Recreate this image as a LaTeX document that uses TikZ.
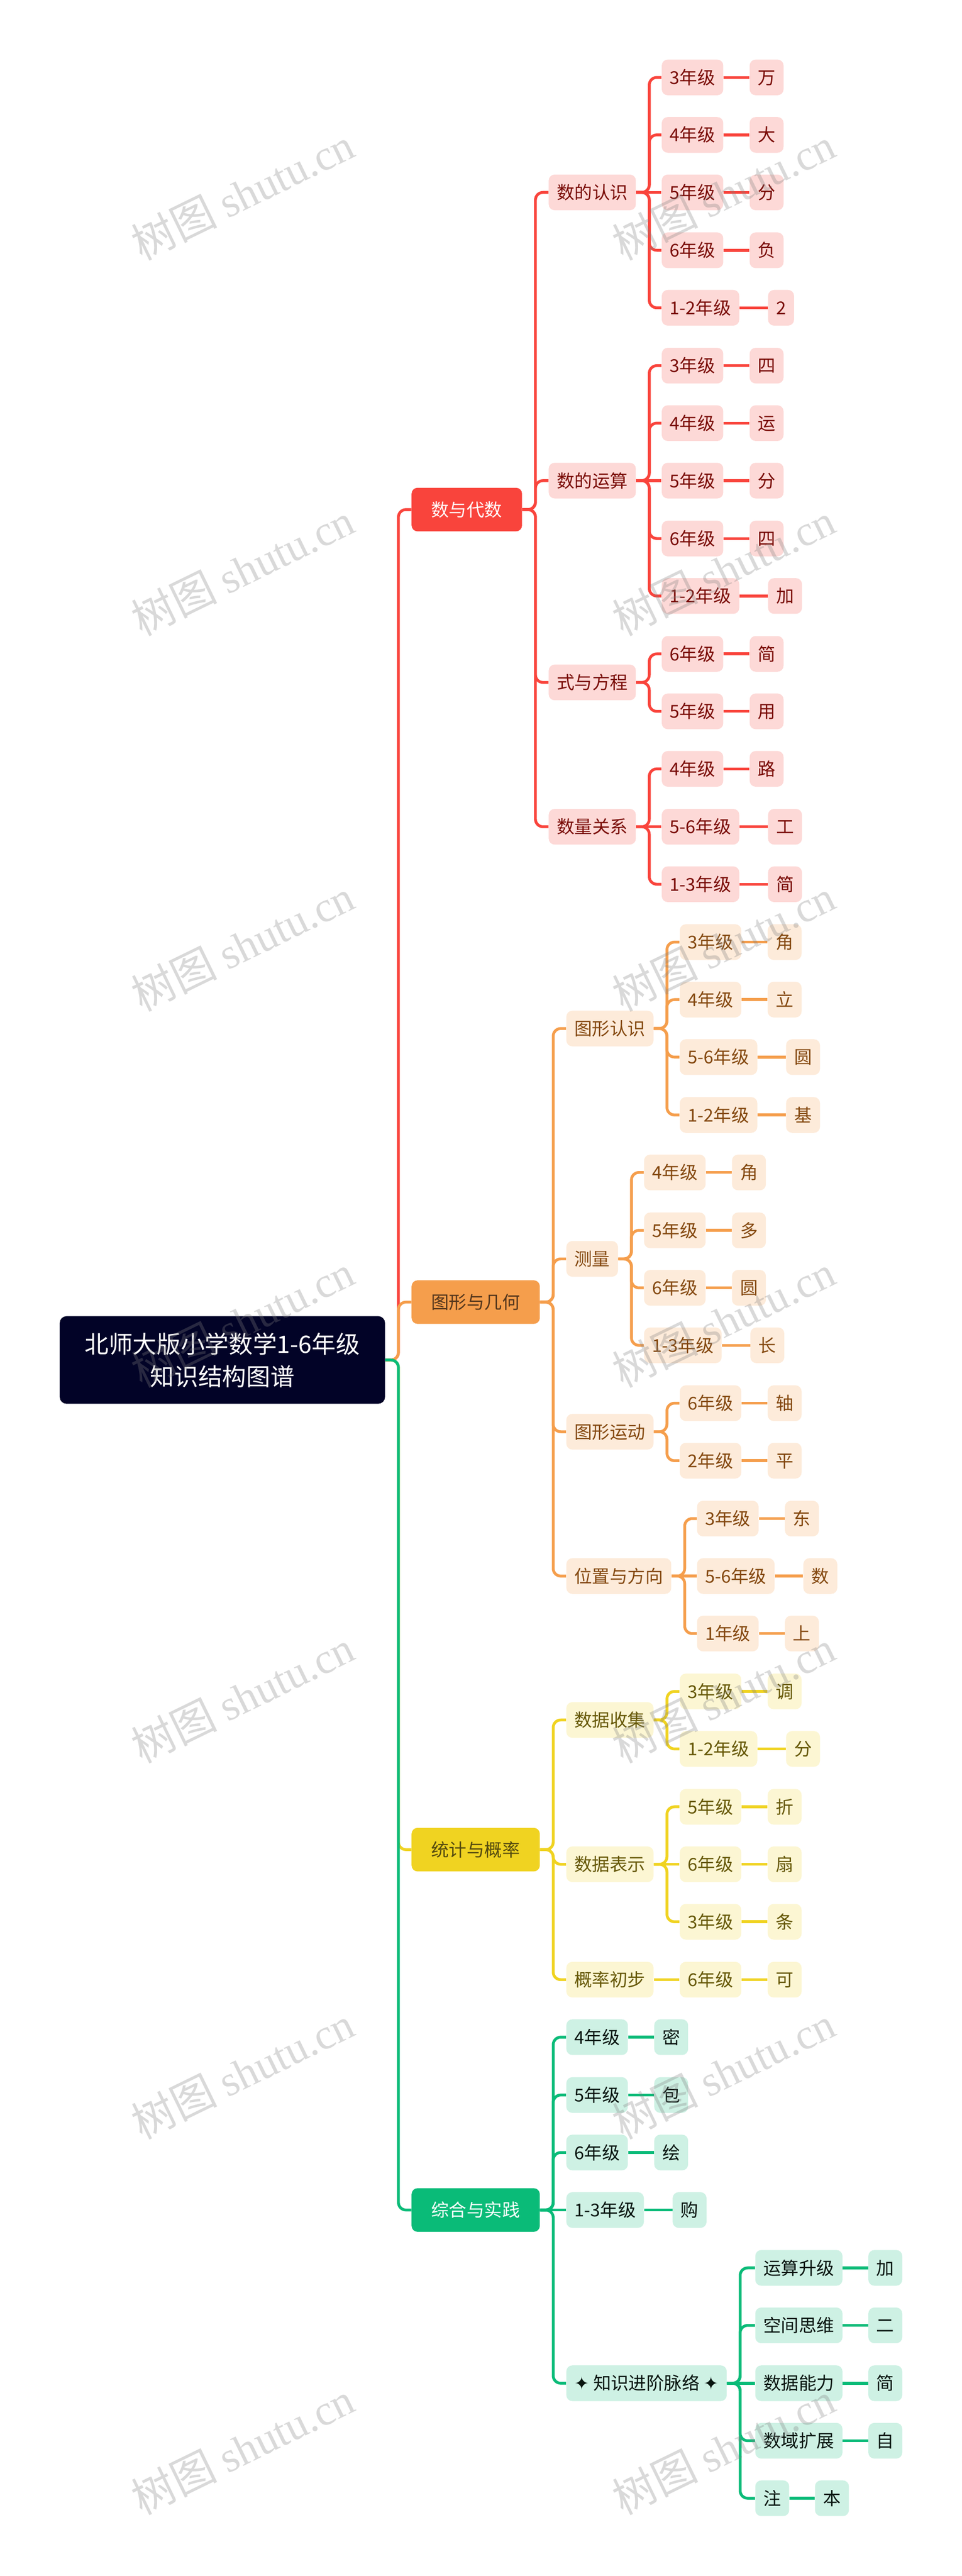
\documentclass[tikz,border=0pt]{standalone}
\usepackage{fontspec}
\setmainfont{Noto Sans CJK SC}
\newfontfamily\starfont{DejaVu Sans}
\newfontfamily\markfont{Liberation Serif}
\definecolor{rootfill}{HTML}{020327}
\definecolor{redmain}{HTML}{F9443C}
\definecolor{redsoft}{HTML}{FDD9D7}
\definecolor{redtext}{HTML}{7A0C07}
\definecolor{orangemain}{HTML}{F59E4C}
\definecolor{orangesoft}{HTML}{FDEBDA}
\definecolor{orangetext}{HTML}{84480F}
\definecolor{orangehead}{HTML}{54361C}
\definecolor{yellowmain}{HTML}{F0D321}
\definecolor{yellowsoft}{HTML}{FCF6D3}
\definecolor{yellowtext}{HTML}{665807}
\definecolor{yellowhead}{HTML}{544A0F}
\definecolor{greenmain}{HTML}{0ABB78}
\definecolor{greensoft}{HTML}{CEF1E4}
\definecolor{greentext}{HTML}{08140F}
\tikzset{
    mapbox/.style={anchor=west, rounded corners=0.16cm, inner ysep=0pt, inner xsep=0.215cm, minimum height=0.95cm, text height=0.416cm, text depth=0.057cm, font=\fontsize{13.45pt}{16pt}\selectfont},
    headbox/.style={mapbox, inner xsep=0.525cm, minimum height=1.16cm},
    redbox/.style={mapbox, fill=redsoft, text=redtext},
    orangebox/.style={mapbox, fill=orangesoft, text=orangetext},
    yellowbox/.style={mapbox, fill=yellowsoft, text=yellowtext},
    greenbox/.style={mapbox, fill=greensoft, text=greentext},
    redline/.style={draw=redmain, line width=0.075cm, rounded corners=0.2cm},
    orangeline/.style={draw=orangemain, line width=0.075cm, rounded corners=0.2cm},
    yellowline/.style={draw=yellowmain, line width=0.075cm, rounded corners=0.2cm},
    greenline/.style={draw=greenmain, line width=0.075cm, rounded corners=0.2cm},
    watermark/.style={rotate=26, text=gray, text opacity=0.3, font=\fontsize{32.5pt}{40pt}\selectfont}
}
\begin{document}
\begin{tikzpicture}
        \useasboundingbox (00.00,-68.55) rectangle (25.60,00.00);

        % Root
        \node [anchor=center, align=center, fill=rootfill, text=white, rounded corners=0.18cm, minimum width=8.66cm, minimum height=2.33cm, inner sep=0pt, font=\fontsize{18.2pt}{24.5pt}\selectfont] (root) at (05.92,-36.19) {北师大版小学数学1-6年级\\知识结构图谱};

        % Heads
        \node [headbox, fill=redmain, text=white] (algebra) at (10.95,-13.56) {数与代数};
        \node [headbox, fill=orangemain, text=orangehead] (geometry) at (10.95,-34.65) {图形与几何};
        \node [headbox, fill=yellowmain, text=yellowhead] (stats) at (10.95,-49.22) {统计与概率};
        \node [headbox, fill=greenmain, text=white] (practice) at (10.95,-58.81) {综合与实践};

        % Number knowledge
        \node [redbox] (know) at (14.60,-05.12) {数的认识};
        \node [redbox] (knowa) at (17.61,-02.06) {3年级};
        \node [redbox] (knowax) at (19.95,-02.06) {万};
        \node [redbox] (knowb) at (17.61,-03.59) {4年级};
        \node [redbox] (knowbx) at (19.95,-03.59) {大};
        \node [redbox] (knowc) at (17.61,-05.12) {5年级};
        \node [redbox] (knowcx) at (19.95,-05.12) {分};
        \node [redbox] (knowd) at (17.61,-06.66) {6年级};
        \node [redbox] (knowdx) at (19.95,-06.66) {负};
        \node [redbox] (knowe) at (17.61,-08.19) {1-2年级};
        \node [redbox] (knowex) at (20.44,-08.19) {2};

        % Number operations
        \node [redbox] (oper) at (14.60,-12.79) {数的运算};
        \node [redbox] (opera) at (17.61,-09.73) {3年级};
        \node [redbox] (operax) at (19.95,-09.73) {四};
        \node [redbox] (operb) at (17.61,-11.26) {4年级};
        \node [redbox] (operbx) at (19.95,-11.26) {运};
        \node [redbox] (operc) at (17.61,-12.79) {5年级};
        \node [redbox] (opercx) at (19.95,-12.79) {分};
        \node [redbox] (operd) at (17.61,-14.33) {6年级};
        \node [redbox] (operdx) at (19.95,-14.33) {四};
        \node [redbox] (opere) at (17.61,-15.86) {1-2年级};
        \node [redbox] (operex) at (20.44,-15.86) {加};

        % Equations
        \node [redbox] (equa) at (14.60,-18.16) {式与方程};
        \node [redbox] (equaa) at (17.61,-17.40) {6年级};
        \node [redbox] (equaax) at (19.95,-17.40) {简};
        \node [redbox] (equab) at (17.61,-18.93) {5年级};
        \node [redbox] (equabx) at (19.95,-18.93) {用};

        % Quantities
        \node [redbox] (quant) at (14.60,-22.00) {数量关系};
        \node [redbox] (quanta) at (17.61,-20.46) {4年级};
        \node [redbox] (quantax) at (19.95,-20.46) {路};
        \node [redbox] (quantb) at (17.61,-22.00) {5-6年级};
        \node [redbox] (quantbx) at (20.44,-22.00) {工};
        \node [redbox] (quantc) at (17.61,-23.53) {1-3年级};
        \node [redbox] (quantcx) at (20.44,-23.53) {简};

        % Shapes
        \node [orangebox] (shape) at (15.07,-27.37) {图形认识};
        \node [orangebox] (shapea) at (18.09,-25.07) {3年级};
        \node [orangebox] (shapeax) at (20.43,-25.07) {角};
        \node [orangebox] (shapeb) at (18.09,-26.60) {4年级};
        \node [orangebox] (shapebx) at (20.43,-26.60) {立};
        \node [orangebox] (shapec) at (18.09,-28.13) {5-6年级};
        \node [orangebox] (shapecx) at (20.92,-28.13) {圆};
        \node [orangebox] (shaped) at (18.09,-29.67) {1-2年级};
        \node [orangebox] (shapedx) at (20.92,-29.67) {基};

        % Measuring
        \node [orangebox] (measure) at (15.07,-33.50) {测量};
        \node [orangebox] (measurea) at (17.14,-31.20) {4年级};
        \node [orangebox] (measureax) at (19.48,-31.20) {角};
        \node [orangebox] (measureb) at (17.14,-32.74) {5年级};
        \node [orangebox] (measurebx) at (19.48,-32.74) {多};
        \node [orangebox] (measurec) at (17.14,-34.27) {6年级};
        \node [orangebox] (measurecx) at (19.48,-34.27) {圆};
        \node [orangebox] (measured) at (17.14,-35.80) {1-3年级};
        \node [orangebox] (measuredx) at (19.97,-35.80) {长};

        % Motion
        \node [orangebox] (motion) at (15.07,-38.10) {图形运动};
        \node [orangebox] (motiona) at (18.09,-37.34) {6年级};
        \node [orangebox] (motionax) at (20.43,-37.34) {轴};
        \node [orangebox] (motionb) at (18.09,-38.87) {2年级};
        \node [orangebox] (motionbx) at (20.43,-38.87) {平};

        % Position
        \node [orangebox] (place) at (15.07,-41.94) {位置与方向};
        \node [orangebox] (placea) at (18.55,-40.41) {3年级};
        \node [orangebox] (placeax) at (20.89,-40.41) {东};
        \node [orangebox] (placeb) at (18.55,-41.94) {5-6年级};
        \node [orangebox] (placebx) at (21.38,-41.94) {数};
        \node [orangebox] (placec) at (18.55,-43.47) {1年级};
        \node [orangebox] (placecx) at (20.89,-43.47) {上};

        % Data collection
        \node [yellowbox] (collect) at (15.07,-45.77) {数据收集};
        \node [yellowbox] (collecta) at (18.09,-45.01) {3年级};
        \node [yellowbox] (collectax) at (20.43,-45.01) {调};
        \node [yellowbox] (collectb) at (18.09,-46.54) {1-2年级};
        \node [yellowbox] (collectbx) at (20.92,-46.54) {分};

        % Data display
        \node [yellowbox] (display) at (15.07,-49.61) {数据表示};
        \node [yellowbox] (displaya) at (18.09,-48.08) {5年级};
        \node [yellowbox] (displayax) at (20.43,-48.08) {折};
        \node [yellowbox] (displayb) at (18.09,-49.61) {6年级};
        \node [yellowbox] (displaybx) at (20.43,-49.61) {扇};
        \node [yellowbox] (displayc) at (18.09,-51.14) {3年级};
        \node [yellowbox] (displaycx) at (20.43,-51.14) {条};

        % Probability
        \node [yellowbox] (chance) at (15.07,-52.68) {概率初步};
        \node [yellowbox] (chancea) at (18.09,-52.68) {6年级};
        \node [yellowbox] (chanceax) at (20.43,-52.68) {可};

        % Practice grades
        \node [greenbox] (grada) at (15.07,-54.21) {4年级};
        \node [greenbox] (gradax) at (17.41,-54.21) {密};
        \node [greenbox] (gradb) at (15.07,-55.75) {5年级};
        \node [greenbox] (gradbx) at (17.41,-55.75) {包};
        \node [greenbox] (gradc) at (15.07,-57.28) {6年级};
        \node [greenbox] (gradcx) at (17.41,-57.28) {绘};
        \node [greenbox] (gradd) at (15.07,-58.81) {1-3年级};
        \node [greenbox] (graddx) at (17.90,-58.81) {购};

        % Progress
        \node [greenbox] (path) at (15.07,-63.42) {{\starfont ✦} 知识进阶脉络 {\starfont ✦}};
        \node [greenbox] (patha) at (20.10,-60.35) {运算升级};
        \node [greenbox] (pathax) at (23.11,-60.35) {加};
        \node [greenbox] (pathb) at (20.10,-61.88) {空间思维};
        \node [greenbox] (pathbx) at (23.11,-61.88) {二};
        \node [greenbox] (pathc) at (20.10,-63.42) {数据能力};
        \node [greenbox] (pathcx) at (23.11,-63.42) {简};
        \node [greenbox] (pathd) at (20.10,-64.95) {数域扩展};
        \node [greenbox] (pathdx) at (23.11,-64.95) {自};
        \node [greenbox] (pathe) at (20.10,-66.48) {注};
        \node [greenbox] (pathex) at (21.69,-66.48) {本};

        % Red links
        \draw [redline] (root.east) -- ++(0.35,0) |- (algebra.west);
        \draw [redline] (algebra.east) -- ++(0.35,0) |- (know.west);
        \draw [redline] (algebra.east) -- ++(0.35,0) |- (oper.west);
        \draw [redline] (algebra.east) -- ++(0.35,0) |- (equa.west);
        \draw [redline] (algebra.east) -- ++(0.35,0) |- (quant.west);
        \draw [redline] (know.east) -- ++(0.35,0) |- (knowa.west);
        \draw [redline] (know.east) -- ++(0.35,0) |- (knowb.west);
        \draw [redline] (know.east) -- (knowc.west);
        \draw [redline] (know.east) -- ++(0.35,0) |- (knowd.west);
        \draw [redline] (know.east) -- ++(0.35,0) |- (knowe.west);
        \draw [redline] (knowa.east) -- (knowax.west);
        \draw [redline] (knowb.east) -- (knowbx.west);
        \draw [redline] (knowc.east) -- (knowcx.west);
        \draw [redline] (knowd.east) -- (knowdx.west);
        \draw [redline] (knowe.east) -- (knowex.west);
        \draw [redline] (oper.east) -- ++(0.35,0) |- (opera.west);
        \draw [redline] (oper.east) -- ++(0.35,0) |- (operb.west);
        \draw [redline] (oper.east) -- (operc.west);
        \draw [redline] (oper.east) -- ++(0.35,0) |- (operd.west);
        \draw [redline] (oper.east) -- ++(0.35,0) |- (opere.west);
        \draw [redline] (opera.east) -- (operax.west);
        \draw [redline] (operb.east) -- (operbx.west);
        \draw [redline] (operc.east) -- (opercx.west);
        \draw [redline] (operd.east) -- (operdx.west);
        \draw [redline] (opere.east) -- (operex.west);
        \draw [redline] (equa.east) -- ++(0.35,0) |- (equaa.west);
        \draw [redline] (equa.east) -- ++(0.35,0) |- (equab.west);
        \draw [redline] (equaa.east) -- (equaax.west);
        \draw [redline] (equab.east) -- (equabx.west);
        \draw [redline] (quant.east) -- ++(0.35,0) |- (quanta.west);
        \draw [redline] (quant.east) -- (quantb.west);
        \draw [redline] (quant.east) -- ++(0.35,0) |- (quantc.west);
        \draw [redline] (quanta.east) -- (quantax.west);
        \draw [redline] (quantb.east) -- (quantbx.west);
        \draw [redline] (quantc.east) -- (quantcx.west);

        % Orange links
        \draw [orangeline] (root.east) -- ++(0.35,0) |- (geometry.west);
        \draw [orangeline] (geometry.east) -- ++(0.35,0) |- (shape.west);
        \draw [orangeline] (geometry.east) -- ++(0.35,0) |- (measure.west);
        \draw [orangeline] (geometry.east) -- ++(0.35,0) |- (motion.west);
        \draw [orangeline] (geometry.east) -- ++(0.35,0) |- (place.west);
        \draw [orangeline] (shape.east) -- ++(0.35,0) |- (shapea.west);
        \draw [orangeline] (shape.east) -- ++(0.35,0) |- (shapeb.west);
        \draw [orangeline] (shape.east) -- ++(0.35,0) |- (shapec.west);
        \draw [orangeline] (shape.east) -- ++(0.35,0) |- (shaped.west);
        \draw [orangeline] (shapea.east) -- (shapeax.west);
        \draw [orangeline] (shapeb.east) -- (shapebx.west);
        \draw [orangeline] (shapec.east) -- (shapecx.west);
        \draw [orangeline] (shaped.east) -- (shapedx.west);
        \draw [orangeline] (measure.east) -- ++(0.35,0) |- (measurea.west);
        \draw [orangeline] (measure.east) -- ++(0.35,0) |- (measureb.west);
        \draw [orangeline] (measure.east) -- ++(0.35,0) |- (measurec.west);
        \draw [orangeline] (measure.east) -- ++(0.35,0) |- (measured.west);
        \draw [orangeline] (measurea.east) -- (measureax.west);
        \draw [orangeline] (measureb.east) -- (measurebx.west);
        \draw [orangeline] (measurec.east) -- (measurecx.west);
        \draw [orangeline] (measured.east) -- (measuredx.west);
        \draw [orangeline] (motion.east) -- ++(0.35,0) |- (motiona.west);
        \draw [orangeline] (motion.east) -- ++(0.35,0) |- (motionb.west);
        \draw [orangeline] (motiona.east) -- (motionax.west);
        \draw [orangeline] (motionb.east) -- (motionbx.west);
        \draw [orangeline] (place.east) -- ++(0.35,0) |- (placea.west);
        \draw [orangeline] (place.east) -- (placeb.west);
        \draw [orangeline] (place.east) -- ++(0.35,0) |- (placec.west);
        \draw [orangeline] (placea.east) -- (placeax.west);
        \draw [orangeline] (placeb.east) -- (placebx.west);
        \draw [orangeline] (placec.east) -- (placecx.west);

        % Yellow links
        \draw [yellowline] (root.east) -- ++(0.35,0) |- (stats.west);
        \draw [yellowline] (stats.east) -- ++(0.35,0) |- (collect.west);
        \draw [yellowline] (stats.east) -- ++(0.35,0) |- (display.west);
        \draw [yellowline] (stats.east) -- ++(0.35,0) |- (chance.west);
        \draw [yellowline] (collect.east) -- ++(0.35,0) |- (collecta.west);
        \draw [yellowline] (collect.east) -- ++(0.35,0) |- (collectb.west);
        \draw [yellowline] (collecta.east) -- (collectax.west);
        \draw [yellowline] (collectb.east) -- (collectbx.west);
        \draw [yellowline] (display.east) -- ++(0.35,0) |- (displaya.west);
        \draw [yellowline] (display.east) -- (displayb.west);
        \draw [yellowline] (display.east) -- ++(0.35,0) |- (displayc.west);
        \draw [yellowline] (displaya.east) -- (displayax.west);
        \draw [yellowline] (displayb.east) -- (displaybx.west);
        \draw [yellowline] (displayc.east) -- (displaycx.west);
        \draw [yellowline] (chance.east) -- (chancea.west);
        \draw [yellowline] (chancea.east) -- (chanceax.west);

        % Green links
        \draw [greenline] (root.east) -- ++(0.35,0) |- (practice.west);
        \draw [greenline] (practice.east) -- ++(0.35,0) |- (grada.west);
        \draw [greenline] (practice.east) -- ++(0.35,0) |- (gradb.west);
        \draw [greenline] (practice.east) -- ++(0.35,0) |- (gradc.west);
        \draw [greenline] (practice.east) -- (gradd.west);
        \draw [greenline] (practice.east) -- ++(0.35,0) |- (path.west);
        \draw [greenline] (grada.east) -- (gradax.west);
        \draw [greenline] (gradb.east) -- (gradbx.west);
        \draw [greenline] (gradc.east) -- (gradcx.west);
        \draw [greenline] (gradd.east) -- (graddx.west);
        \draw [greenline] (path.east) -- ++(0.35,0) |- (patha.west);
        \draw [greenline] (path.east) -- ++(0.35,0) |- (pathb.west);
        \draw [greenline] (path.east) -- (pathc.west);
        \draw [greenline] (path.east) -- ++(0.35,0) |- (pathd.west);
        \draw [greenline] (path.east) -- ++(0.35,0) |- (pathe.west);
        \draw [greenline] (patha.east) -- (pathax.west);
        \draw [greenline] (pathb.east) -- (pathbx.west);
        \draw [greenline] (pathc.east) -- (pathcx.west);
        \draw [greenline] (pathd.east) -- (pathdx.west);
        \draw [greenline] (pathe.east) -- (pathex.west);

        % Watermarks
        \node [watermark] (marka) at (06.46,-05.15) {树图 {\markfont shutu.cn}};
        \node [watermark] (markb) at (19.26,-05.15) {树图 {\markfont shutu.cn}};
        \node [watermark] (markc) at (06.46,-15.15) {树图 {\markfont shutu.cn}};
        \node [watermark] (markd) at (19.26,-15.15) {树图 {\markfont shutu.cn}};
        \node [watermark] (marke) at (06.46,-25.15) {树图 {\markfont shutu.cn}};
        \node [watermark] (markf) at (19.26,-25.15) {树图 {\markfont shutu.cn}};
        \node [watermark] (markg) at (06.46,-35.15) {树图 {\markfont shutu.cn}};
        \node [watermark] (markh) at (19.26,-35.15) {树图 {\markfont shutu.cn}};
        \node [watermark] (marki) at (06.46,-45.15) {树图 {\markfont shutu.cn}};
        \node [watermark] (markj) at (19.26,-45.15) {树图 {\markfont shutu.cn}};
        \node [watermark] (markk) at (06.46,-55.15) {树图 {\markfont shutu.cn}};
        \node [watermark] (markl) at (19.26,-55.15) {树图 {\markfont shutu.cn}};
        \node [watermark] (markm) at (06.46,-65.15) {树图 {\markfont shutu.cn}};
        \node [watermark] (markn) at (19.26,-65.15) {树图 {\markfont shutu.cn}};

    \end{tikzpicture}
\end{document}
